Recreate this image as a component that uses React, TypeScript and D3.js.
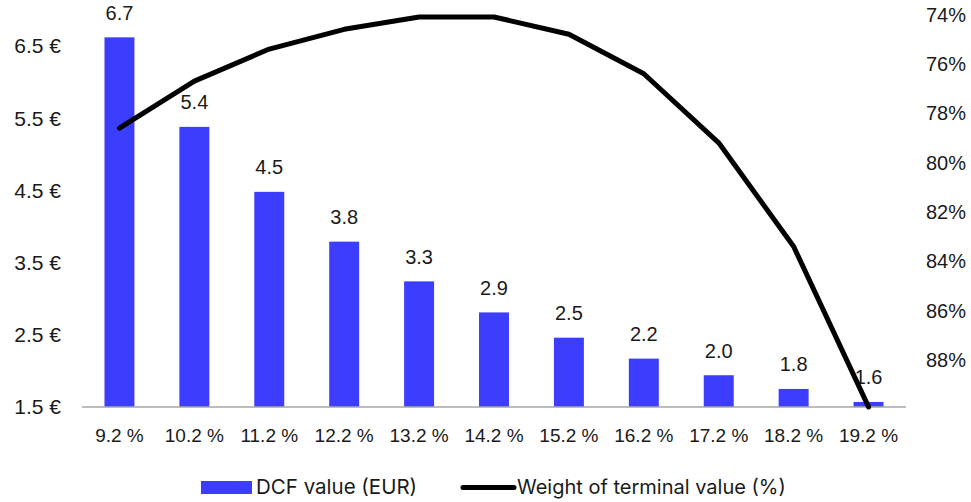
import React from "react";
import * as d3 from "d3";

const categories = ["9.2 %", "10.2 %", "11.2 %", "12.2 %", "13.2 %", "14.2 %", "15.2 %", "16.2 %", "17.2 %", "18.2 %", "19.2 %"];
const dcfValues = [6.62, 5.38, 4.48, 3.79, 3.24, 2.81, 2.46, 2.17, 1.94, 1.75, 1.57];
const dcfLabels = ["6.7", "5.4", "4.5", "3.8", "3.3", "2.9", "2.5", "2.2", "2.0", "1.8", "1.6"];
const terminalWeight = [78.6, 76.7, 75.4, 74.6, 74.1, 74.1, 74.8, 76.4, 79.2, 83.4, 89.9];
const leftTicks = [1.5, 2.5, 3.5, 4.5, 5.5, 6.5];
const rightTicks = [74, 76, 78, 80, 82, 84, 86, 88];

const W = 971;
const H = 502;
const BAR = "#3d3dff";
const TXT = "#1a1a1a";
const AXFONT = "'Liberation Sans', Arial, sans-serif";
const LEGFONT = "Inter, Roboto, sans-serif";

export default function App() {
  const x = d3.scaleBand<string>().domain(categories).range([82, 906]).paddingInner(0.6).paddingOuter(0.3);
  const yL = d3.scaleLinear().domain([1.5, 6.5]).range([407, 46]);
  const yR = d3.scaleLinear().domain([74, 88]).range([14.5, 360]);
  const cx = (c: string) => (x(c) as number) + x.bandwidth() / 2;
  const line = d3
    .line<number>()
    .x((_, i) => cx(categories[i]))
    .y((d) => yR(d));

  return (
    <svg width={W} height={H} style={{ position: "absolute", left: 0, top: 0, background: "#fff" }}>
      {leftTicks.map((t) => (
        <text key={"l" + t} x={61} y={yL(t)} dy="0.35em" textAnchor="end" fontFamily={AXFONT} fontSize={21} fill={TXT}>
          {t.toFixed(1)} €
        </text>
      ))}
      {rightTicks.map((t) => (
        <text key={"r" + t} x={926} y={yR(t)} dy="0.35em" textAnchor="start" fontFamily={AXFONT} fontSize={20} fill={TXT}>
          {t}%
        </text>
      ))}
      {categories.map((c, i) => (
        <rect key={"b" + c} x={x(c)} y={yL(dcfValues[i])} width={x.bandwidth()} height={yL(1.5) - yL(dcfValues[i])} fill={BAR} />
      ))}
      <line x1={82} x2={906} y1={yL(1.5)} y2={yL(1.5)} stroke="#a6a6a6" strokeWidth={1.5} />
      {categories.map((c, i) => (
        <text key={"v" + c} x={cx(c)} y={yL(dcfValues[i]) - 17.5} textAnchor="middle" fontFamily={AXFONT} fontSize={20} fill={TXT}>
          {dcfLabels[i]}
        </text>
      ))}
      {categories.map((c) => (
        <text key={"x" + c} x={cx(c)} y={442} textAnchor="middle" fontFamily={AXFONT} fontSize={19} fill={TXT}>
          {c}
        </text>
      ))}
      <path d={line(terminalWeight) || ""} fill="none" stroke="#000" strokeWidth={5} strokeLinejoin="round" strokeLinecap="round" />
      <rect x={201} y={481} width={51} height={13} fill={BAR} />
      <text x={256} y={494} fontFamily={LEGFONT} fontSize={20.5} fill={TXT}>
        DCF value (EUR)
      </text>
      <line x1={463} x2={514} y1={487.5} y2={487.5} stroke="#000" strokeWidth={5} strokeLinecap="round" />
      <text x={517} y={494} fontFamily={LEGFONT} fontSize={20} fill={TXT}>
        Weight of terminal value (%)
      </text>
    </svg>
  );
}
